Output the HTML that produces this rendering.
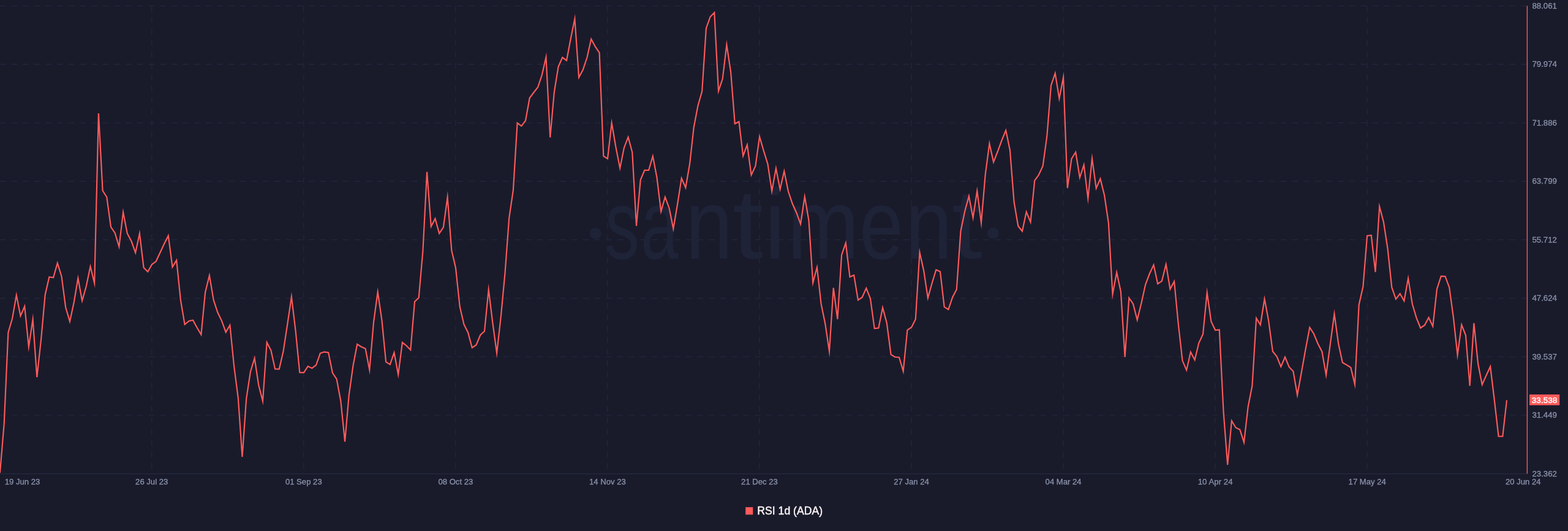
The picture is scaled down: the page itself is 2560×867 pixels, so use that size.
<!DOCTYPE html>
<html lang="en"><head><meta charset="utf-8"><title>RSI 1d (ADA)</title>
<style>
html,body{margin:0;padding:0;background:#191b2b;}
body{width:2560px;height:867px;overflow:hidden;position:relative;font-family:"Liberation Sans",Arial,sans-serif;}
svg{position:absolute;left:0;top:0;display:block;filter:blur(0.5px)}
.ax{font-family:"Liberation Sans",Arial,sans-serif;font-size:13.7px;fill:#8b93ab;stroke:#8b93ab;stroke-width:0.3px;}
.lg{font-family:"Liberation Sans",Arial,sans-serif;font-size:18.8px;fill:#fdf5f5;stroke:#fdf5f5;stroke-width:0.45px;}
.cur{font-family:"Liberation Sans",Arial,sans-serif;font-size:13.6px;fill:#ffffff;stroke:#ffffff;stroke-width:0.4px;}
</style></head><body>
<svg width="2560" height="867" viewBox="0 0 2560 867">
<rect x="0" y="0" width="2560" height="867" fill="#191b2b"/>
<g stroke="#23273c" stroke-width="1.33" stroke-dasharray="9.33 9.34" fill="none"><line x1="0" y1="9.6" x2="2493.4" y2="9.6"/><line x1="0" y1="105.0" x2="2493.4" y2="105.0"/><line x1="0" y1="200.5" x2="2493.4" y2="200.5"/><line x1="0" y1="296.0" x2="2493.4" y2="296.0"/><line x1="0" y1="391.5" x2="2493.4" y2="391.5"/><line x1="0" y1="487.0" x2="2493.4" y2="487.0"/><line x1="0" y1="582.4" x2="2493.4" y2="582.4"/><line x1="0" y1="677.9" x2="2493.4" y2="677.9"/><line x1="247.7" y1="9.6" x2="247.7" y2="773.4"/><line x1="495.8" y1="9.6" x2="495.8" y2="773.4"/><line x1="743.8" y1="9.6" x2="743.8" y2="773.4"/><line x1="991.9" y1="9.6" x2="991.9" y2="773.4"/><line x1="1240.0" y1="9.6" x2="1240.0" y2="773.4"/><line x1="1488.0" y1="9.6" x2="1488.0" y2="773.4"/><line x1="1736.1" y1="9.6" x2="1736.1" y2="773.4"/><line x1="1984.1" y1="9.6" x2="1984.1" y2="773.4"/><line x1="2232.2" y1="9.6" x2="2232.2" y2="773.4"/></g>
<line x1="0" y1="773.55" x2="2493.4" y2="773.55" stroke="#262a40" stroke-width="1.2"/>
<g fill="#1f2338" font-family="Liberation Sans, Arial, sans-serif" font-size="161.5px"><circle cx="972.2" cy="381.2" r="9.3"/><circle cx="1621.4" cy="380.6" r="9.3"/><text y="421.8"><tspan x="988.08" textLength="55.55" lengthAdjust="spacingAndGlyphs">s</tspan><tspan x="1046.23" textLength="61.16" lengthAdjust="spacingAndGlyphs">a</tspan><tspan x="1119.22" textLength="77.08" lengthAdjust="spacingAndGlyphs">n</tspan><tspan x="1195.90" textLength="50.00" lengthAdjust="spacingAndGlyphs">t</tspan><tspan x="1248.00" textLength="34.54" lengthAdjust="spacingAndGlyphs">i</tspan><tspan x="1285.49" textLength="117.11" lengthAdjust="spacingAndGlyphs">m</tspan><tspan x="1403.22" textLength="71.69" lengthAdjust="spacingAndGlyphs">e</tspan><tspan x="1477.82" textLength="77.08" lengthAdjust="spacingAndGlyphs">n</tspan><tspan x="1553.70" textLength="50.00" lengthAdjust="spacingAndGlyphs">t</tspan></text></g>
<polyline points="0.0,772.0 6.7,692.0 13.4,543.0 20.1,520.0 26.8,481.9 33.5,515.9 40.2,500.1 46.9,566.3 53.6,521.4 60.3,615.8 67.0,555.0 73.7,481.2 80.4,452.3 87.1,453.4 93.8,429.6 100.5,451.2 107.2,502.0 114.0,524.9 120.7,493.8 127.4,454.3 134.1,491.1 140.8,467.5 147.5,435.1 154.2,462.4 160.9,185.0 167.6,311.2 174.3,321.8 181.0,370.5 187.7,380.5 194.4,402.8 201.1,346.4 207.8,381.2 214.5,393.8 221.2,412.6 227.9,381.3 234.6,437.0 241.3,443.8 248.0,431.8 254.7,426.8 261.4,412.5 268.1,398.0 274.8,384.9 281.5,436.0 288.2,424.9 294.9,490.0 301.6,529.8 308.3,524.2 315.0,522.7 321.7,535.0 328.4,546.4 335.1,477.5 341.9,449.8 348.6,489.5 355.3,510.0 362.0,523.8 368.7,542.4 375.4,531.0 382.1,598.0 388.8,649.5 395.5,746.0 402.2,650.8 408.9,607.0 415.6,584.9 422.3,629.0 429.0,655.0 435.7,559.0 442.4,572.0 449.1,602.5 455.8,602.6 462.5,573.8 469.2,530.0 475.9,484.6 482.6,540.0 489.3,608.2 496.0,608.4 502.7,598.1 509.4,601.2 516.1,596.2 522.8,576.8 529.5,574.6 536.2,575.8 542.9,608.8 549.6,618.8 556.3,654.5 563.1,721.2 569.8,644.5 576.5,597.0 583.2,562.0 589.9,566.2 596.6,569.2 603.3,604.0 610.0,526.2 616.7,476.8 623.4,522.5 630.1,590.8 636.8,595.2 643.5,575.8 650.2,611.5 656.9,559.1 663.6,564.5 670.3,571.4 677.0,492.5 683.7,486.2 690.4,410.0 697.1,280.5 703.8,369.8 710.5,356.9 717.2,381.2 723.9,371.2 730.6,322.0 737.3,408.8 744.0,437.5 750.7,500.5 757.4,529.5 764.1,543.0 770.8,567.7 777.5,563.2 784.3,547.0 791.0,540.8 797.7,472.7 804.4,527.5 811.1,576.6 817.8,517.0 824.5,446.2 831.2,356.0 837.9,310.5 844.6,200.8 851.3,205.8 858.0,197.0 864.7,160.0 871.4,151.0 878.1,142.5 884.8,122.5 891.5,93.2 898.2,224.5 904.9,150.0 911.6,108.8 918.3,93.8 925.0,98.9 931.7,63.5 938.4,30.6 945.1,126.4 951.8,113.8 958.5,93.8 965.2,63.8 971.9,76.2 978.6,86.2 985.3,255.0 992.0,259.1 998.7,200.9 1005.4,240.0 1012.2,274.6 1018.9,241.2 1025.6,223.9 1032.3,248.8 1039.0,368.8 1045.7,293.8 1052.4,277.9 1059.1,278.0 1065.8,255.0 1072.5,290.0 1079.2,345.4 1085.9,321.8 1092.6,340.0 1099.3,373.5 1106.0,334.0 1112.7,291.1 1119.4,306.5 1126.1,267.5 1132.8,207.5 1139.5,172.5 1146.2,149.0 1152.9,46.2 1159.6,27.5 1166.3,20.5 1173.0,148.7 1179.7,128.8 1186.4,73.1 1193.1,117.5 1199.8,202.0 1206.5,198.7 1213.2,254.7 1219.9,236.5 1226.6,285.8 1233.4,271.2 1240.1,223.2 1246.8,246.2 1253.5,268.0 1260.2,312.1 1266.9,274.9 1273.6,309.1 1280.3,279.6 1287.0,312.5 1293.7,332.5 1300.4,347.5 1307.1,365.6 1313.8,321.0 1320.5,360.0 1327.2,461.8 1333.9,436.5 1340.6,496.2 1347.3,528.8 1354.0,573.7 1360.7,470.0 1367.4,521.2 1374.1,416.2 1380.8,396.8 1387.5,452.1 1394.2,449.2 1400.9,489.9 1407.6,485.5 1414.3,470.6 1421.0,487.5 1427.7,536.4 1434.4,535.5 1441.1,502.3 1447.8,527.5 1454.6,578.8 1461.3,583.0 1468.0,583.5 1474.7,606.2 1481.4,538.8 1488.1,534.5 1494.8,521.2 1501.5,411.9 1508.2,442.0 1514.9,486.6 1521.6,462.5 1528.3,440.4 1535.0,443.5 1541.7,501.2 1548.4,505.3 1555.1,485.5 1561.8,472.5 1568.5,377.5 1575.2,345.0 1581.9,320.3 1588.6,355.7 1595.3,311.8 1602.0,363.9 1608.7,285.0 1615.4,234.5 1622.1,264.6 1628.8,247.5 1635.5,229.2 1642.2,212.8 1648.9,245.0 1655.6,330.0 1662.3,369.2 1669.0,377.5 1675.7,345.9 1682.5,362.6 1689.2,295.0 1695.9,285.5 1702.6,271.2 1709.3,222.5 1716.0,139.5 1722.7,119.7 1729.4,160.8 1736.1,126.3 1742.8,307.0 1749.5,259.2 1756.2,248.4 1762.9,290.0 1769.6,269.2 1776.3,324.2 1783.0,258.7 1789.7,307.6 1796.4,291.9 1803.1,318.8 1809.8,363.8 1816.5,480.6 1823.2,444.7 1829.9,476.2 1836.6,583.0 1843.3,486.5 1850.0,496.2 1856.7,522.3 1863.4,495.0 1870.1,464.8 1876.8,447.0 1883.5,432.5 1890.2,463.4 1896.9,458.8 1903.7,431.5 1910.4,472.1 1917.1,459.5 1923.8,529.0 1930.5,588.8 1937.2,604.4 1943.9,574.8 1950.6,587.7 1957.3,560.0 1964.0,545.8 1970.7,477.8 1977.4,525.0 1984.1,539.0 1990.8,538.5 1997.5,672.0 2004.2,758.8 2010.9,687.0 2017.6,698.2 2024.3,701.5 2031.0,722.4 2037.7,664.0 2044.4,630.0 2051.1,519.4 2057.8,530.5 2064.5,488.1 2071.2,523.8 2077.9,573.8 2084.6,582.0 2091.3,598.6 2098.0,583.0 2104.7,599.2 2111.4,606.2 2118.1,645.0 2124.9,607.5 2131.6,570.0 2138.3,534.6 2145.0,545.0 2151.7,561.2 2158.4,574.2 2165.1,612.4 2171.8,562.0 2178.5,512.5 2185.2,561.2 2191.9,592.0 2198.6,595.8 2205.3,600.0 2212.0,627.8 2218.7,497.5 2225.4,468.0 2232.1,385.0 2238.8,384.1 2245.5,444.2 2252.2,337.1 2258.9,362.5 2265.6,406.2 2272.3,469.2 2279.0,488.3 2285.7,479.5 2292.4,491.4 2299.1,454.3 2305.8,496.2 2312.5,518.8 2319.2,535.5 2325.9,531.0 2332.6,518.5 2339.3,532.9 2346.0,472.0 2352.8,450.9 2359.5,451.2 2366.2,469.2 2372.9,518.0 2379.6,579.7 2386.3,530.3 2393.0,547.5 2399.7,630.0 2406.4,527.5 2413.1,593.8 2419.8,627.9 2426.5,613.0 2433.2,598.5 2439.9,654.0 2446.6,712.5 2453.3,712.5 2460.0,653.5" fill="none" stroke="#ff5b5b" stroke-width="2.15" stroke-linejoin="miter" stroke-miterlimit="10"/>
<line x1="2493.4" y1="9.55" x2="2493.4" y2="773.4" stroke="#ff5b5b" stroke-width="1.4"/>
<g class="ax"><text x="2501.4" y="13.8" textLength="40.6" lengthAdjust="spacingAndGlyphs">88.061</text><text x="2501.4" y="109.2" textLength="40.6" lengthAdjust="spacingAndGlyphs">79.974</text><text x="2501.4" y="204.7" textLength="40.6" lengthAdjust="spacingAndGlyphs">71.886</text><text x="2501.4" y="300.2" textLength="40.6" lengthAdjust="spacingAndGlyphs">63.799</text><text x="2501.4" y="395.7" textLength="40.6" lengthAdjust="spacingAndGlyphs">55.712</text><text x="2501.4" y="491.2" textLength="40.6" lengthAdjust="spacingAndGlyphs">47.624</text><text x="2501.4" y="586.6" textLength="40.6" lengthAdjust="spacingAndGlyphs">39.537</text><text x="2501.4" y="682.1" textLength="40.6" lengthAdjust="spacingAndGlyphs">31.449</text><text x="2501.4" y="777.6" textLength="40.6" lengthAdjust="spacingAndGlyphs">23.362</text></g>
<g class="ax"><text x="7.7" y="791.3" textLength="57.6" lengthAdjust="spacingAndGlyphs">19 Jun 23</text><text x="221.1" y="791.3" textLength="53.2" lengthAdjust="spacingAndGlyphs">26 Jul 23</text><text x="465.9" y="791.3" textLength="59.8" lengthAdjust="spacingAndGlyphs">01 Sep 23</text><text x="715.4" y="791.3" textLength="56.9" lengthAdjust="spacingAndGlyphs">08 Oct 23</text><text x="962.0" y="791.3" textLength="59.8" lengthAdjust="spacingAndGlyphs">14 Nov 23</text><text x="1210.1" y="791.3" textLength="59.8" lengthAdjust="spacingAndGlyphs">21 Dec 23</text><text x="1459.2" y="791.3" textLength="57.6" lengthAdjust="spacingAndGlyphs">27 Jan 24</text><text x="1706.6" y="791.3" textLength="59.0" lengthAdjust="spacingAndGlyphs">04 Mar 24</text><text x="1955.7" y="791.3" textLength="56.9" lengthAdjust="spacingAndGlyphs">10 Apr 24</text><text x="2201.6" y="791.3" textLength="61.2" lengthAdjust="spacingAndGlyphs">17 May 24</text><text x="2458.0" y="791.3" textLength="57.6" lengthAdjust="spacingAndGlyphs">20 Jun 24</text></g>
<rect x="2497.1" y="644.1" width="49.1" height="17.5" fill="#ff5b5b"/><text class="cur" x="2500.8" y="657.5" textLength="41.6" lengthAdjust="spacingAndGlyphs">33.538</text>
<rect x="1217.2" y="828.1" width="12.05" height="12.2" fill="#ff5b5b"/><text class="lg" x="1236.3" y="840.35" textLength="106.8" lengthAdjust="spacingAndGlyphs">RSI 1d (ADA)</text>
</svg>
</body></html>
